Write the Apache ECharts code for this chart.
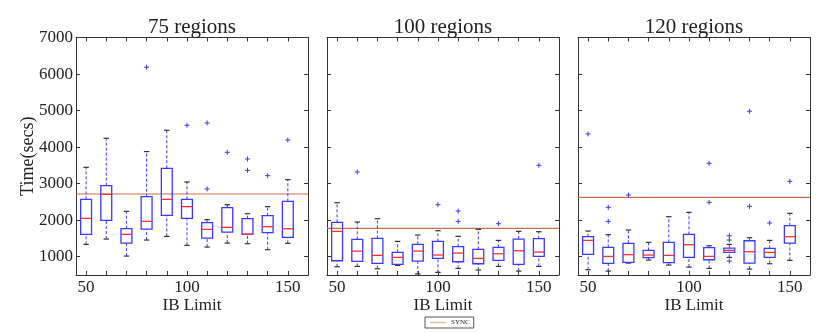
<!DOCTYPE html>
<html>
<head>
<meta charset="utf-8">
<script src="https://cdn.jsdelivr.net/npm/echarts@6/dist/echarts.min.js"></script>
<style>
  html, body { margin: 0; padding: 0; background: #fff; }
  #chart { width: 830px; height: 332px; }
</style>
</head>
<body>
<div id="chart"></div>
<script>
// x positions of the boxes (IB limit)
var ibLimits = [50, 60, 70, 80, 90, 100, 110, 120, 130, 140, 150];
var panelTitles = ['75 regions', '100 regions', '120 regions'];
var yTicks = [1000, 2000, 3000, 4000, 5000, 6000, 7000];
var xLabels = [50, 100, 150];
var syncTimes = [2717, 1776, 2626];

// [low whisker, Q1, median, Q3, high whisker]
var box75 = [
  [1338, 1612, 2050, 2571, 3447],
  [1484, 1995, 2708, 2945, 4242],
  [1018, 1374, 1612, 1767, 2242],
  [1457, 1758, 1968, 2644, 3877],
  [1557, 2132, 2571, 3420, 4461],
  [1311, 2050, 2370, 2571, 3046],
  [1265, 1511, 1749, 1932, 2014],
  [1374, 1676, 1804, 2342, 2425],
  [1356, 1612, 1621, 2041, 2178],
  [1192, 1658, 1822, 2123, 2370],
  [1365, 1530, 1767, 2516, 3110]
];
var box100 = [
  [726, 890, 1694, 1941, 2479],
  [735, 872, 1155, 1475, 1950],
  [671, 817, 1037, 1502, 2041],
  [763, 790, 982, 1119, 1420],
  [530, 881, 1155, 1338, 1594],
  [571, 954, 1046, 1420, 1712],
  [680, 863, 1100, 1274, 1557],
  [635, 808, 954, 1201, 1749],
  [735, 900, 1082, 1256, 1447],
  [607, 790, 1164, 1484, 1694],
  [735, 1009, 1128, 1493, 1685]
];
var box120 = [
  [644, 1064, 1447, 1548, 1703],
  [607, 817, 1009, 1256, 1603],
  [826, 845, 1055, 1365, 1731],
  [909, 973, 1046, 1174, 1393],
  [772, 836, 1037, 1393, 2096],
  [717, 982, 1329, 1612, 2215],
  [680, 918, 1009, 1247, 1301],
  [982, 1119, 1174, 1237, 1338],
  [662, 826, 1137, 1438, 1521],
  [808, 982, 1119, 1228, 1447],
  [900, 1374, 1548, 1849, 2187]
];

// outliers: [IB limit, time]
var out75 = [[80, 6187], [100, 4598], [110, 4662], [110, 2854], [120, 3858],
             [130, 3676], [130, 3365], [140, 3219], [150, 4196]];
var out100 = [[60, 3320], [100, 2425], [110, 2251], [110, 1968], [130, 1904], [150, 3502]];
var out120 = [[50, 4361], [60, 2352], [60, 1968], [70, 2689], [110, 3557], [110, 2489],
              [120, 1575], [120, 1457], [120, 881], [130, 4982], [130, 2379], [140, 1922], [150, 3064]];

var boxes = [box75, box100, box120];
var outliers = [out75, out100, out120];

var BLUE = '#3a3aff';
var RED = '#ff3030';
var SYNC_COLOR = '#c2714c';
var FONT = 'Liberation Serif';
var gridLefts = [76, 327, 578];
var gridWidth = 232;

var chart = echarts.init(document.getElementById('chart'), null, { renderer: 'canvas' });

function renderBox(params, api) {
  var x = api.value(0);
  var lo = api.coord([x, api.value(1)]);
  var q1 = api.coord([x, api.value(2)]);
  var md = api.coord([x, api.value(3)]);
  var q3 = api.coord([x, api.value(4)]);
  var hi = api.coord([x, api.value(5)]);
  var w = api.size([5.4, 0])[0];
  var half = w / 2, cap = w / 4;
  var dash = { stroke: BLUE, lineWidth: 1, lineDash: [3, 2] };
  return {
    type: 'group',
    children: [
      { type: 'line', shape: { x1: lo[0], y1: lo[1], x2: q1[0], y2: q1[1] }, style: dash },
      { type: 'line', shape: { x1: q3[0], y1: q3[1], x2: hi[0], y2: hi[1] }, style: dash },
      { type: 'line', shape: { x1: lo[0] - cap, y1: lo[1], x2: lo[0] + cap, y2: lo[1] }, style: { stroke: '#333', lineWidth: 1.2 } },
      { type: 'line', shape: { x1: hi[0] - cap, y1: hi[1], x2: hi[0] + cap, y2: hi[1] }, style: { stroke: '#333', lineWidth: 1.2 } },
      { type: 'rect', shape: { x: q3[0] - half, y: q3[1], width: w, height: q1[1] - q3[1] }, style: { fill: 'none', stroke: BLUE, lineWidth: 1.3 } },
      { type: 'line', shape: { x1: md[0] - half, y1: md[1], x2: md[0] + half, y2: md[1] }, style: { stroke: RED, lineWidth: 1.3 } }
    ]
  };
}

function renderPlus(params, api) {
  var p = api.coord([api.value(0), api.value(1)]);
  var s = 2.5;
  var st = { stroke: BLUE, lineWidth: 1 };
  return {
    type: 'group',
    children: [
      { type: 'line', shape: { x1: p[0] - s, y1: p[1], x2: p[0] + s, y2: p[1] }, style: st },
      { type: 'line', shape: { x1: p[0], y1: p[1] - s, x2: p[0], y2: p[1] + s }, style: st }
    ]
  };
}

var grids = [], xAxes = [], yAxes = [], titles = [], series = [];
var axisLine = { show: true, onZero: false, lineStyle: { color: '#333', width: 1 } };
var tick = { show: true, inside: true, length: 4, lineStyle: { color: '#333' } };

for (var i = 0; i < 3; i++) {
  grids.push({ left: gridLefts[i], top: 37.5, width: gridWidth, height: 237.5, show: false });
  titles.push({
    text: panelTitles[i], left: gridLefts[i] + gridWidth / 2, top: 17, textAlign: 'center', padding: 0,
    textStyle: { fontFamily: FONT, fontSize: 21, fontWeight: 'normal', color: '#222' }
  });
  // bottom x axis
  xAxes.push({
    type: 'value', gridIndex: i, min: 45, max: 160, position: 'bottom',
    name: 'IB Limit', nameLocation: 'middle', nameGap: 22, nameMoveOverlap: false,
    nameTextStyle: { fontFamily: FONT, fontSize: 17, color: '#222' },
    axisLine: axisLine, splitLine: { show: false },
    axisTick: Object.assign({ customValues: ibLimits }, tick),
    axisLabel: { customValues: xLabels, fontFamily: FONT, fontSize: 17, color: '#222', margin: 4 }
  });
  // top mirror axis
  xAxes.push({
    type: 'value', gridIndex: i, min: 45, max: 160, position: 'top',
    axisLine: axisLine, splitLine: { show: false },
    axisTick: Object.assign({ customValues: ibLimits }, tick),
    axisLabel: { show: false }
  });
  yAxes.push({
    type: 'value', gridIndex: i, min: 500, max: 7000, position: 'left',
    name: i === 0 ? 'Time(secs)' : '', nameLocation: 'middle', nameGap: 39, nameMoveOverlap: false,
    nameTextStyle: { fontFamily: FONT, fontSize: 18, color: '#222' },
    axisLine: axisLine, splitLine: { show: false },
    axisTick: Object.assign({ customValues: yTicks }, tick),
    axisLabel: {
      show: i === 0, customValues: yTicks, fontFamily: FONT, fontSize: 17, color: '#222', margin: 3,
      formatter: function (v) { return String(v); }
    }
  });
  yAxes.push({
    type: 'value', gridIndex: i, min: 500, max: 7000, position: 'right',
    axisLine: axisLine, splitLine: { show: false },
    axisTick: Object.assign({ customValues: yTicks }, tick),
    axisLabel: { show: false }
  });

  var boxData = boxes[i].map(function (b, k) { return [ibLimits[k]].concat(b); });
  series.push({
    type: 'custom', name: 'box' + i, xAxisIndex: 2 * i, yAxisIndex: 2 * i,
    renderItem: renderBox, data: boxData, encode: { x: 0, y: [1, 2, 3, 4, 5] }, silent: true
  });
  series.push({
    type: 'custom', name: 'out' + i, xAxisIndex: 2 * i, yAxisIndex: 2 * i,
    renderItem: renderPlus, data: outliers[i], encode: { x: 0, y: 1 }, silent: true
  });
  series.push({
    type: 'line', name: 'SYNC', xAxisIndex: 2 * i, yAxisIndex: 2 * i,
    data: [[45, syncTimes[i]], [160, syncTimes[i]]], showSymbol: false, symbol: 'none',
    lineStyle: { color: SYNC_COLOR, width: 1.2 }, itemStyle: { color: SYNC_COLOR }, silent: true, z: 1
  });
}

var option = {
  animation: false,
  title: titles,
  grid: grids,
  xAxis: xAxes,
  yAxis: yAxes,
  legend: {
    data: [{ name: 'SYNC', icon: 'rect', itemStyle: { color: '#e2bca3' } }],
    left: 425, top: 317, itemWidth: 16, itemHeight: 1.5, itemGap: 4,
    padding: [2, 4, 2, 5],
    borderColor: '#555', borderWidth: 1,
    textStyle: { fontFamily: FONT, fontSize: 7, color: '#222' },
    selectedMode: false
  },
  series: series
};

chart.setOption(option);
</script>
</body>
</html>
